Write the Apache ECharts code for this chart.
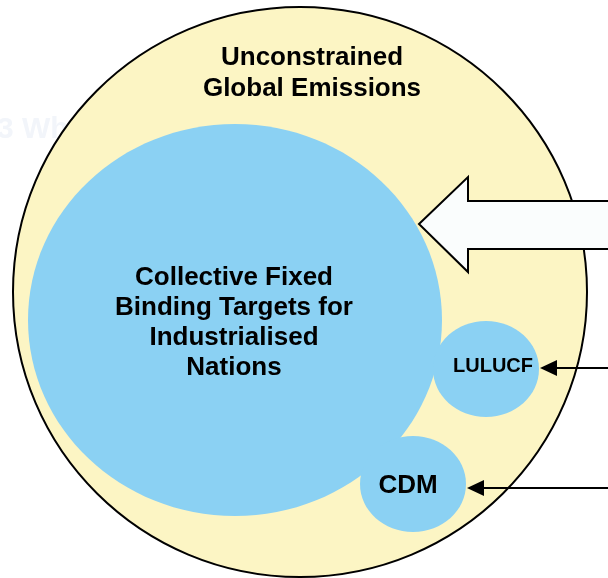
<!DOCTYPE html>
<html><head><meta charset="utf-8">
<script src="https://cdn.jsdelivr.net/npm/echarts@6/dist/echarts.min.js"></script>
<style>html,body{margin:0;padding:0;background:#fff}#c{width:608px;height:578px}</style>
</head><body><div id="c"></div>
<script>
// ---- data ----
const outerLabel = 'Unconstrained\nGlobal Emissions';
const outerCenterX = [300];
const outerCenterY = [292];
const outerRadiusX = [287];
const outerRadiusY = [285];
const outerLabelPos = [312, 73];

const innerLabels = ['Collective Fixed\nBinding Targets for\nIndustrialised\nNations', 'LULUCF', 'CDM'];
const innerCentersX = [235, 486, 413];
const innerCentersY = [320, 369, 484];
const innerRadiiX = [207, 53, 53];
const innerRadiiY = [196, 48, 48];
const innerLabelX = [234, 493, 408];
const innerLabelY = [323, 366, 486];

const pointerY = [368, 488];
const pointerTipX = [540, 467];
const pointerStartX = [610, 610];

const blockArrowX = [419, 468, 468, 620, 620, 468, 468];
const blockArrowY = [224, 177, 201, 201, 249, 249, 272];

const ghostText = '3 Wh';

// ---- chart ----
const chart = echarts.init(document.getElementById('c'), null, {renderer: 'canvas'});

function ellipseItem(fill, stroke, lw) {
  return function (params, api) {
    const c = api.coord([api.value(0), api.value(1)]);
    const e = api.coord([api.value(0) + api.value(2), api.value(1) + api.value(3)]);
    return {
      type: 'ellipse',
      shape: {cx: c[0], cy: c[1], rx: Math.abs(e[0] - c[0]), ry: Math.abs(e[1] - c[1])},
      style: {fill: fill, stroke: stroke, lineWidth: lw}
    };
  };
}

const labelFonts = [26, 20, 26];
const labelLH = [30, 22, 28];

chart.setOption({
  animation: false,
  backgroundColor: '#ffffff',
  grid: {left: 0, right: 0, top: 0, bottom: 0},
  xAxis: {type: 'value', min: 0, max: 608, show: false},
  yAxis: {type: 'value', min: 0, max: 578, inverse: true, show: false},
  series: [
    { // faint background text
      type: 'custom', z: 1, silent: true,
      data: [[-3, 130]],
      renderItem: function (params, api) {
        const p = api.coord([api.value(0), api.value(1)]);
        return {type: 'text', x: p[0], y: p[1], style: {text: ghostText, fill: '#f2f5fa',
          fontSize: 30, fontWeight: 'bold', fontFamily: '"Liberation Sans", Arial, sans-serif',
          align: 'left', verticalAlign: 'middle'}};
      }
    },
    { // outer circle
      type: 'custom', z: 2, silent: true,
      data: outerCenterX.map((x, i) => [x, outerCenterY[i], outerRadiusX[i], outerRadiusY[i]]),
      renderItem: ellipseItem('#FCF5C4', '#000000', 2)
    },
    { // inner circles
      type: 'custom', z: 3, silent: true,
      data: innerCentersX.map((x, i) => [x, innerCentersY[i], innerRadiiX[i], innerRadiiY[i]]),
      renderItem: ellipseItem('#8BD1F3', null, 0)
    },
    { // labels
      type: 'custom', z: 4, silent: true,
      data: [[outerLabelPos[0], outerLabelPos[1], 0]].concat(innerLabelX.map((x, i) => [x, innerLabelY[i], i + 1])),
      renderItem: function (params, api) {
        const p = api.coord([api.value(0), api.value(1)]);
        const k = api.value(2);
        const txt = k === 0 ? outerLabel : innerLabels[k - 1];
        const fs = k === 0 ? 26 : labelFonts[k - 1];
        const lh = k === 0 ? 31 : labelLH[k - 1];
        return {type: 'text', x: p[0], y: p[1], style: {text: txt, fill: '#000000',
          fontSize: fs, fontWeight: 'bold', fontFamily: '"Liberation Sans", Arial, sans-serif',
          align: 'center', verticalAlign: 'middle', lineHeight: lh}};
      }
    },
    { // block arrow
      type: 'custom', z: 5, silent: true,
      data: [[0]],
      renderItem: function (params, api) {
        const pts = blockArrowX.map((x, i) => api.coord([x, blockArrowY[i]]));
        return {type: 'polygon', shape: {points: pts},
          style: {fill: '#FAFDFD', stroke: '#000000', lineWidth: 2, lineJoin: 'miter'}};
      }
    },
    { // pointer arrows
      type: 'custom', z: 6, silent: true,
      data: pointerY.map((y, i) => [pointerStartX[i], y, pointerTipX[i]]),
      renderItem: function (params, api) {
        const s = api.coord([api.value(0), api.value(1)]);
        const t = api.coord([api.value(2), api.value(1)]);
        return {type: 'group', children: [
          {type: 'line', shape: {x1: s[0], y1: s[1], x2: t[0] + 12, y2: t[1]},
            style: {stroke: '#000000', lineWidth: 2}},
          {type: 'polygon', shape: {points: [[t[0], t[1]], [t[0] + 17, t[1] - 8], [t[0] + 17, t[1] + 8]]},
            style: {fill: '#000000'}}
        ]};
      }
    }
  ]
});
</script>
</body></html>
